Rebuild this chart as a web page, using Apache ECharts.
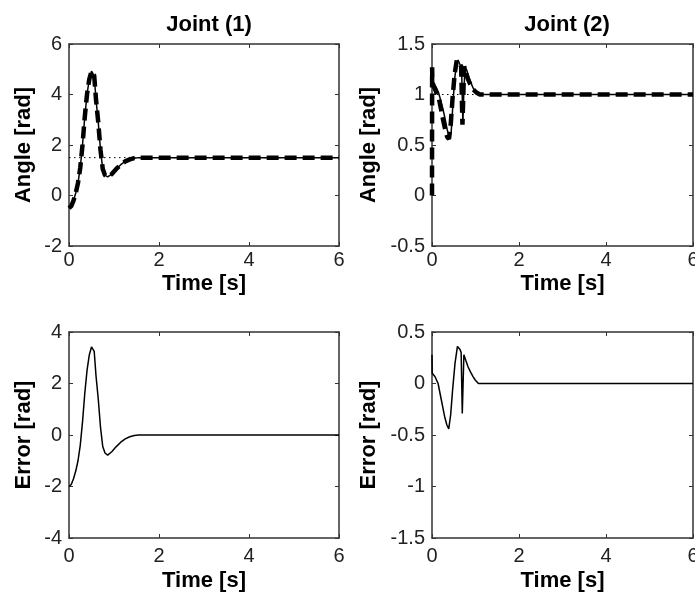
<!DOCTYPE html>
<html>
<head>
<meta charset="utf-8">
<script src="https://cdn.jsdelivr.net/npm/echarts@6/dist/echarts.min.js"></script>
<style>
html,body{margin:0;padding:0;background:#fff;}
#c{width:695px;height:594px;}
</style>
</head>
<body>
<div id="c"></div>
<script>
// ---- Data ----
const titles = ['Joint (1)', 'Joint (2)'];
const xTicks = [0, 2, 4, 6];

// Joint 1 angle
const time1 = [0, 0.05, 0.1, 0.15, 0.2, 0.25, 0.3, 0.35, 0.4, 0.45, 0.5, 0.53, 0.56, 0.6, 0.65, 0.7, 0.75, 0.8, 0.86, 0.95, 1.05, 1.15, 1.25, 1.35, 1.45, 1.55, 1.65, 6];
const angle1 = [-0.5, -0.42, -0.2, 0.1, 0.5, 1.1, 2.0, 3.1, 4.0, 4.6, 4.92, 4.97, 4.75, 3.8, 2.9, 1.8, 1.05, 0.8, 0.74, 0.85, 1.05, 1.22, 1.35, 1.43, 1.48, 1.5, 1.5, 1.5];
const ref1Time = [0, 6];
const ref1 = [1.5, 1.5];
// Joint 1 error
const err1 = [-2.0, -1.92, -1.7, -1.4, -1.0, -0.4, 0.5, 1.6, 2.5, 3.1, 3.42, 3.47, 3.25, 2.3, 1.4, 0.3, -0.45, -0.7, -0.78, -0.65, -0.45, -0.28, -0.15, -0.07, -0.02, 0, 0, 0];

// Joint 2 angle (solid)
const time2s = [0, 0.05, 0.1, 0.15, 0.2, 0.25, 0.3, 0.35, 0.4, 0.44, 0.48, 0.52, 0.56, 0.6, 0.64, 0.68, 0.71, 0.73, 0.76, 0.8, 0.85, 0.9, 0.95, 1.0, 1.08, 1.15, 6];
const angle2s = [1.14, 1.1, 1.07, 1.02, 0.94, 0.86, 0.76, 0.65, 0.57, 0.62, 0.9, 1.15, 1.3, 1.34, 1.3, 1.26, 0.72, 1.0, 1.28, 1.24, 1.17, 1.11, 1.06, 1.03, 1.01, 1.0, 1.0];
// Joint 2 angle (dashed)
const time2d = [0, 0.003, 0.01, 0.05, 0.1, 0.15, 0.2, 0.25, 0.3, 0.35, 0.39, 0.43, 0.47, 0.52, 0.57, 0.6, 0.64, 0.67, 0.7, 0.72, 0.74, 0.77, 0.82, 0.88, 0.95, 1.02, 1.1, 1.2, 6];
const angle2d = [0, 1.27, 1.12, 1.07, 1.02, 0.98, 0.87, 0.76, 0.66, 0.58, 0.56, 0.7, 0.95, 1.2, 1.34, 1.34, 1.3, 1.28, 0.7, 1.0, 1.28, 1.22, 1.16, 1.1, 1.05, 1.02, 1.0, 1.0, 1.0];
const ref2Time = [0, 6];
const ref2 = [1.0, 1.0];
// Joint 2 error
const time2e = [0, 0.005, 0.07, 0.14, 0.215, 0.29, 0.34, 0.385, 0.43, 0.474, 0.53, 0.585, 0.644, 0.67, 0.696, 0.733, 0.78, 0.83, 0.881, 0.94, 0.993, 1.067, 6];
const err2 = [0.28, 0.1, 0.066, 0.0, -0.16, -0.32, -0.4, -0.44, -0.3, -0.06, 0.2, 0.36, 0.33, 0.3, -0.29, 0.28, 0.22, 0.16, 0.115, 0.07, 0.034, 0, 0];

// y ranges
const yRanges = [
  {min: -2, max: 6, interval: 2},
  {min: -0.5, max: 1.5, interval: 0.5},
  {min: -4, max: 4, interval: 2},
  {min: -1.5, max: 0.5, interval: 0.5}
];
const yNames = ['Angle [rad]', 'Angle [rad]', 'Error [rad]', 'Error [rad]'];

// ---- Layout ----
const grids = [
  {left: 69, top: 44, width: 270, height: 202, outerBoundsMode: 'none'},
  {left: 432, top: 44, width: 261, height: 202, outerBoundsMode: 'none'},
  {left: 69, top: 332, width: 270, height: 206, outerBoundsMode: 'none'},
  {left: 432, top: 332, width: 261, height: 206, outerBoundsMode: 'none'}
];
const yNameGaps = [34, 52, 34, 52];
const xLabelMargins = [4, 4, 8, 8];
const xNameGaps = [27, 27, 32, 32];

const zip = (t, v) => t.map((x, i) => [x, v[i]]);
const axisColor = '#333';
const boldFont = {fontFamily: 'Liberation Sans, Arial, sans-serif', fontWeight: 'bold', fontSize: 22, color: '#000'};
const tickFont = {fontFamily: 'Liberation Sans, Arial, sans-serif', fontSize: 20, color: '#222'};

const xAxes = [], yAxes = [];
grids.forEach((g, i) => {
  const common = {
    type: 'value', gridIndex: i, min: 0, max: 6, interval: 2,
    axisLine: {show: true, onZero: false, lineStyle: {color: axisColor, width: 1.5}},
    axisTick: {show: true, inside: true, length: 4, lineStyle: {color: axisColor}},
    splitLine: {show: false}
  };
  xAxes.push(Object.assign({}, common, {
    position: 'bottom',
    name: 'Time [s]', nameLocation: 'middle', nameGap: xNameGaps[i],
    nameTextStyle: boldFont,
    axisLabel: Object.assign({margin: xLabelMargins[i], hideOverlap: false}, tickFont)
  }));
  xAxes.push(Object.assign({}, common, {position: 'top', axisLabel: {show: false}}));
  const r = yRanges[i];
  const ycommon = {
    type: 'value', gridIndex: i, min: r.min, max: r.max, interval: r.interval,
    axisLine: {show: true, onZero: false, lineStyle: {color: axisColor, width: 1.5}},
    axisTick: {show: true, inside: true, length: 4, lineStyle: {color: axisColor}},
    splitLine: {show: false}
  };
  yAxes.push(Object.assign({}, ycommon, {
    position: 'left',
    name: yNames[i], nameLocation: 'middle', nameGap: yNameGaps[i],
    nameTextStyle: boldFont,
    axisLabel: Object.assign({margin: 7, padding: [5, 0, 0, 0]}, tickFont)
  }));
  yAxes.push(Object.assign({}, ycommon, {position: 'right', axisLabel: {show: false}}));
});

function line(idx, data, style) {
  return {
    type: 'line', xAxisIndex: idx * 2, yAxisIndex: idx * 2, data: data,
    showSymbol: false, symbol: 'none', animation: false, silent: true,
    lineStyle: style, z: style.z || 2
  };
}
const solid = {color: '#000', width: 1.5, type: 'solid'};
const dashed = {color: '#000', width: 4.5, type: [12, 6], z: 3};
const dotted = {color: '#000', width: 1, type: [1.5, 3.5], z: 1};

const series = [
  line(0, zip(ref1Time, ref1), dotted),
  line(0, zip(time1, angle1), solid),
  line(0, zip(time1, angle1), dashed),
  line(1, zip(ref2Time, ref2), dotted),
  line(1, zip(time2s, angle2s), solid),
  line(1, zip(time2d, angle2d), dashed),
  line(2, zip(time1, err1), solid),
  line(3, zip(time2e, err2), solid)
];

const chart = echarts.init(document.getElementById('c'), null, {renderer: 'canvas'});
chart.setOption({
  animation: false,
  backgroundColor: '#fff',
  title: [
    {text: titles[0], left: 204, top: 9, textAlign: 'center', textStyle: boldFont},
    {text: titles[1], left: 562, top: 9, textAlign: 'center', textStyle: boldFont}
  ],
  grid: grids,
  xAxis: xAxes,
  yAxis: yAxes,
  series: series
});
</script>
</body>
</html>
